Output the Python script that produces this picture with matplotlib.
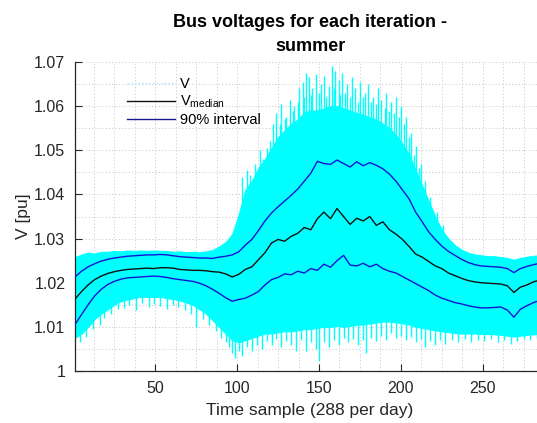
import matplotlib
matplotlib.use("Agg")
import numpy as np
import matplotlib.pyplot as plt
from matplotlib.lines import Line2D
from matplotlib.ticker import MultipleLocator, FuncFormatter

plt.rcParams['font.family'] = ['Liberation Sans', 'DejaVu Sans']
plt.rcParams['mathtext.fontset'] = 'custom'
plt.rcParams['mathtext.rm'] = 'Liberation Sans'
plt.rcParams['mathtext.it'] = 'Liberation Sans'

# ---------------- data ----------------
t_grid = [1, 5, 9, 13, 17, 21, 25, 29, 33, 37, 41, 45, 49, 53, 57, 61, 65, 69, 73, 77,
          81, 85, 89, 93, 97, 101, 105, 109, 113, 117, 121, 125, 129, 133, 137, 141,
          145, 149, 153, 157, 161, 165, 169, 173, 177, 181, 185, 189, 193, 197, 201,
          205, 209, 213, 217, 221, 225, 229, 233, 237, 241, 245, 249, 253, 257, 261,
          265, 269, 273, 277, 281, 285, 288]

# dense band of all iterations (upper / lower edge)
v_band_upper = [1.0258, 1.0264, 1.0268, 1.0266, 1.0270, 1.0270, 1.0272, 1.0271, 1.0273,
                1.0272, 1.0273, 1.0272, 1.0273, 1.0272, 1.0272, 1.0270, 1.0271, 1.0269,
                1.0270, 1.0269, 1.0271, 1.0274, 1.0282, 1.0292, 1.0310, 1.0355, 1.0410,
                1.0430, 1.0460, 1.0480, 1.0505, 1.0530, 1.0545, 1.0560, 1.0570, 1.0585,
                1.0590, 1.0590, 1.0595, 1.0600, 1.0600, 1.0595, 1.0590, 1.0585, 1.0580,
                1.0575, 1.0570, 1.0560, 1.0550, 1.0535, 1.0515, 1.0490, 1.0455, 1.0420,
                1.0385, 1.0350, 1.0320, 1.0300, 1.0285, 1.0275, 1.0268, 1.0264, 1.0262,
                1.0260, 1.0260, 1.0258, 1.0256, 1.0252, 1.0256, 1.0259, 1.0261, 1.0262,
                1.0262]
v_band_lower = [1.0075, 1.0085, 1.0100, 1.0118, 1.0130, 1.0140, 1.0150, 1.0158, 1.0162,
                1.0165, 1.0168, 1.0168, 1.0168, 1.0168, 1.0165, 1.0163, 1.0160, 1.0155,
                1.0150, 1.0140, 1.0130, 1.0115, 1.0100, 1.0085, 1.0070, 1.0065, 1.0070,
                1.0075, 1.0080, 1.0085, 1.0085, 1.0088, 1.0090, 1.0090, 1.0092, 1.0095,
                1.0095, 1.0098, 1.0100, 1.0100, 1.0102, 1.0100, 1.0102, 1.0105, 1.0105,
                1.0108, 1.0110, 1.0112, 1.0112, 1.0110, 1.0108, 1.0105, 1.0100, 1.0098,
                1.0095, 1.0092, 1.0090, 1.0088, 1.0086, 1.0085, 1.0085, 1.0085, 1.0084,
                1.0084, 1.0083, 1.0082, 1.0080, 1.0078, 1.0080, 1.0082, 1.0083, 1.0084,
                1.0085]

# isolated upward peaks of single iterations
t_spike_up = [103, 106, 108, 111, 114, 116, 118, 120, 122, 124, 126, 127, 129, 130, 132,
              134, 135, 137, 138, 140, 141, 142, 144, 145, 146, 148, 150, 151, 153, 154,
              156, 158, 159, 160, 162, 163, 164, 166, 167, 169, 170, 172, 174, 175, 177,
              178, 180, 182, 183, 185, 186, 188, 190, 191, 193, 194, 196, 197, 199, 200,
              202, 203, 205, 206, 208, 209, 211, 212, 215, 218, 222, 226]
v_spike_up = [1.0440, 1.0455, 1.0445, 1.0470, 1.0500, 1.0480, 1.0505, 1.0520, 1.0560,
              1.0585, 1.0560, 1.0605, 1.0570, 1.0575, 1.0615, 1.0590, 1.0600, 1.0610,
              1.0640, 1.0655, 1.0620, 1.0675, 1.0665, 1.0625, 1.0640, 1.0672, 1.0630,
              1.0650, 1.0668, 1.0620, 1.0645, 1.0690, 1.0640, 1.0680, 1.0660, 1.0625,
              1.0675, 1.0630, 1.0650, 1.0620, 1.0665, 1.0640, 1.0610, 1.0655, 1.0620,
              1.0630, 1.0650, 1.0610, 1.0620, 1.0605, 1.0640, 1.0615, 1.0595, 1.0630,
              1.0590, 1.0610, 1.0585, 1.0620, 1.0575, 1.0600, 1.0560, 1.0575, 1.0530,
              1.0540, 1.0490, 1.0510, 1.0460, 1.0470, 1.0430, 1.0395, 1.0360, 1.0330]

# isolated downward dips of single iterations
t_spike_dn = [4, 8, 12, 16, 19, 23, 27, 31, 34, 38, 42, 46, 49, 53, 57, 61, 64, 68, 72,
              75, 79, 83, 87, 90, 93, 95, 97, 99, 101, 103, 106, 109, 112, 115, 118, 121,
              124, 127, 130, 133, 136, 139, 142, 145, 148, 150, 153, 156, 159, 162, 165,
              168, 171, 174, 177, 179, 182, 185, 188, 191, 194, 197, 200, 203, 206, 209,
              212, 215, 218, 221, 224, 227, 231, 235, 239, 243, 247, 251, 255, 259, 263,
              267, 271, 275, 279, 283, 287]
v_spike_dn = [1.0065, 1.0078, 1.0095, 1.0105, 1.0120, 1.0128, 1.0140, 1.0143, 1.0150,
              1.0138, 1.0155, 1.0145, 1.0152, 1.0148, 1.0140, 1.0150, 1.0145, 1.0138,
              1.0128, 1.0100, 1.0118, 1.0105, 1.0090, 1.0075, 1.0065, 1.0055, 1.0040,
              1.0030, 1.0045, 1.0035, 1.0055, 1.0045, 1.0060, 1.0050, 1.0068, 1.0060,
              1.0072, 1.0055, 1.0068, 1.0060, 1.0045, 1.0070, 1.0045, 1.0065, 1.0050,
              1.0022, 1.0065, 1.0055, 1.0070, 1.0060, 1.0075, 1.0065, 1.0072, 1.0060,
              1.0070, 1.0040, 1.0075, 1.0068, 1.0080, 1.0070, 1.0085, 1.0075, 1.0080,
              1.0070, 1.0078, 1.0065, 1.0072, 1.0055, 1.0068, 1.0060, 1.0070, 1.0062,
              1.0070, 1.0065, 1.0072, 1.0066, 1.0070, 1.0068, 1.0072, 1.0066, 1.0070,
              1.0062, 1.0068, 1.0072, 1.0070, 1.0074, 1.0076]

v_median = [1.0163, 1.0180, 1.0195, 1.0207, 1.0215, 1.0221, 1.0225, 1.0228, 1.0230, 1.0231,
            1.0232, 1.0233, 1.0232, 1.0234, 1.0234, 1.0233, 1.0230, 1.0229, 1.0228, 1.0228,
            1.0227, 1.0225, 1.0224, 1.0220, 1.0213, 1.0219, 1.0230, 1.0236, 1.0252, 1.0268,
            1.0290, 1.0298, 1.0294, 1.0305, 1.0312, 1.0325, 1.0320, 1.0345, 1.0360, 1.0345,
            1.0368, 1.0350, 1.0332, 1.0346, 1.0340, 1.0350, 1.0330, 1.0338, 1.0320, 1.0310,
            1.0298, 1.0282, 1.0265, 1.0258, 1.0248, 1.0238, 1.0232, 1.0222, 1.0216, 1.0210,
            1.0205, 1.0202, 1.0200, 1.0199, 1.0198, 1.0197, 1.0193, 1.0178, 1.0190, 1.0195,
            1.0202, 1.0206, 1.0207]
v_p95 = [1.0213, 1.0226, 1.0236, 1.0243, 1.0249, 1.0253, 1.0256, 1.0258, 1.0260, 1.0261,
         1.0262, 1.0263, 1.0263, 1.0264, 1.0263, 1.0261, 1.0259, 1.0258, 1.0257, 1.0256,
         1.0256, 1.0255, 1.0258, 1.0260, 1.0263, 1.0270, 1.0285, 1.0298, 1.0318, 1.0340,
         1.0358, 1.0372, 1.0385, 1.0398, 1.0412, 1.0430, 1.0448, 1.0475, 1.0470, 1.0468,
         1.0478, 1.0470, 1.0462, 1.0474, 1.0465, 1.0472, 1.0466, 1.0458, 1.0446, 1.0430,
         1.0410, 1.0390, 1.0360, 1.0338, 1.0315, 1.0298, 1.0283, 1.0271, 1.0262, 1.0253,
         1.0246, 1.0241, 1.0238, 1.0237, 1.0236, 1.0235, 1.0232, 1.0223, 1.0232, 1.0237,
         1.0241, 1.0244, 1.0245]
v_p05 = [1.0105, 1.0128, 1.0150, 1.0170, 1.0185, 1.0196, 1.0203, 1.0208, 1.0211, 1.0212,
         1.0213, 1.0214, 1.0215, 1.0214, 1.0212, 1.0209, 1.0207, 1.0205, 1.0203, 1.0199,
         1.0193, 1.0185, 1.0176, 1.0166, 1.0158, 1.0162, 1.0165, 1.0172, 1.0180, 1.0195,
         1.0207, 1.0212, 1.0220, 1.0218, 1.0226, 1.0222, 1.0232, 1.0228, 1.0242, 1.0235,
         1.0250, 1.0262, 1.0240, 1.0238, 1.0244, 1.0236, 1.0242, 1.0232, 1.0226, 1.0222,
         1.0214, 1.0206, 1.0198, 1.0190, 1.0182, 1.0172, 1.0165, 1.0160, 1.0155, 1.0152,
         1.0148, 1.0145, 1.0143, 1.0143, 1.0144, 1.0145, 1.0138, 1.0122, 1.0140, 1.0148,
         1.0155, 1.0160, 1.0162]

x_ticks = [50, 100, 150, 200, 250]
y_ticks = [1.00, 1.01, 1.02, 1.03, 1.04, 1.05, 1.06, 1.07]
legend_labels = ['V', r'V$_{\mathregular{median}}$', '90% interval']

title_text = 'Bus voltages for each iteration -\nsummer'
xlabel_text = 'Time sample (288 per day)'
ylabel_text = 'V [pu]'

# ---------------- figure ----------------
W, H = 537, 423
fig = plt.figure(figsize=(W / 100, H / 100), dpi=100)
ax = fig.add_axes([75 / W, 1 - 371 / H, (545 - 75) / W, (371 - 62) / H])

cyan = '#00FFFF'
ax.fill_between(t_grid, v_band_lower, v_band_upper, color=cyan, lw=0.8, zorder=2)
# single-iteration excursions start from the dense band edge
up_base = np.interp(t_spike_up, t_grid, v_band_upper) - 0.001
dn_base = np.interp(t_spike_dn, t_grid, v_band_lower) + 0.001
ax.vlines(t_spike_up, up_base, v_spike_up, color=cyan, lw=1.0, zorder=2)
ax.vlines(t_spike_dn, v_spike_dn, dn_base, color=cyan, lw=1.0, zorder=2)

ax.plot(t_grid, v_p95, color='#1414d8', lw=1.0, zorder=3)
ax.plot(t_grid, v_p05, color='#1414d8', lw=1.0, zorder=3)
ax.plot(t_grid, v_median, color='#111111', lw=1.0, zorder=4)

ax.set_xlim(1, 288)
ax.set_ylim(1.0, 1.07)
ax.set_xticks(x_ticks)
ax.set_yticks(y_ticks)
ax.yaxis.set_major_formatter(FuncFormatter(lambda v, p: f'{v:g}'))
ax.xaxis.set_minor_locator(MultipleLocator(12.5))
ax.yaxis.set_minor_locator(MultipleLocator(0.005))
ax.tick_params(which='major', direction='in', length=5, width=0.8,
               labelsize=11.5, colors='#262626', pad=7)
ax.tick_params(which='minor', length=0)
ax.grid(True, which='both', linestyle=(0, (1.5, 2.5)), color='#c8c8c8', lw=0.6)
ax.set_axisbelow(True)

for s in ['top', 'right']:
    ax.spines[s].set_visible(False)
for s in ['left', 'bottom']:
    ax.spines[s].set_color('#262626')
    ax.spines[s].set_linewidth(0.9)

ax.set_title(title_text, fontsize=13, fontweight='bold', color='#000000', pad=8,
             linespacing=1.55)
ax.set_xlabel(xlabel_text, fontsize=12.5, color='#262626', labelpad=5)
ax.set_ylabel(ylabel_text, fontsize=12.5, color='#262626', labelpad=2)

handles = [Line2D([], [], color='#9fefff', lw=1.0, linestyle=':'),
           Line2D([], [], color='#111111', lw=1.0),
           Line2D([], [], color='#1a1a90', lw=1.0)]
ax.legend(handles, legend_labels, loc='upper left',
          bbox_to_anchor=((127 - 75) / 470, 1 - (77 - 62) / 309),
          frameon=False, fontsize=10.5, handlelength=3.3, handletextpad=0.35,
          borderpad=0, borderaxespad=0, labelspacing=0.2)

fig.savefig('out.png', dpi=100)
